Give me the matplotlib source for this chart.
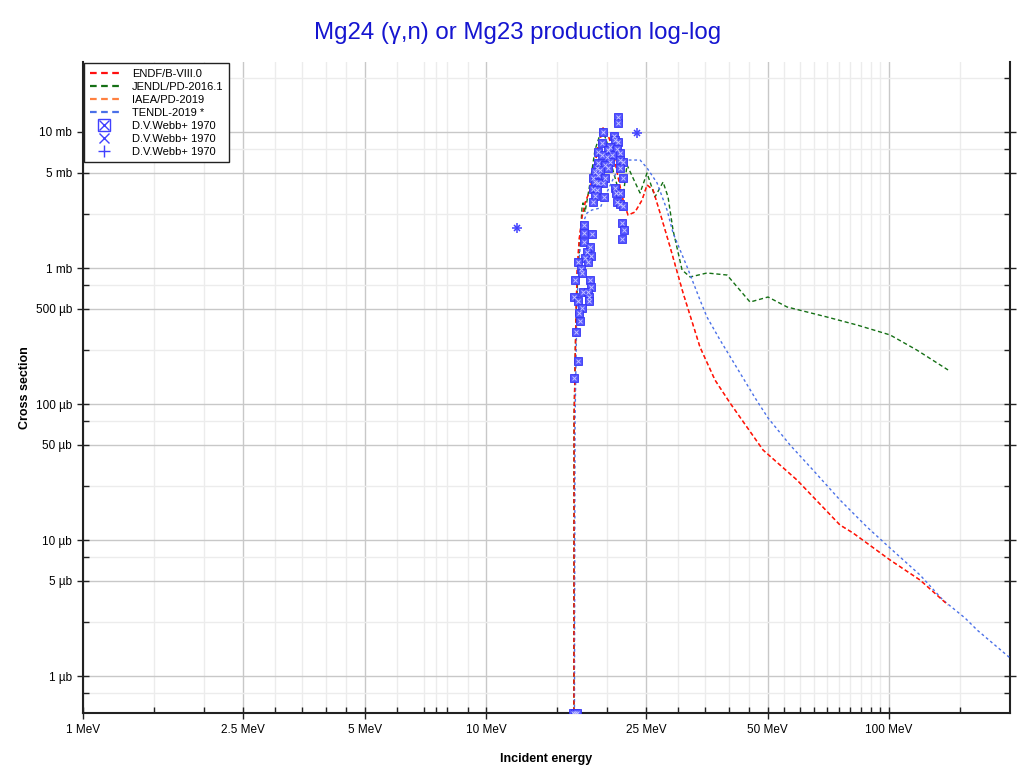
import matplotlib
matplotlib.use("Agg")
import matplotlib.pyplot as plt
from matplotlib.lines import Line2D
from matplotlib.ticker import FixedLocator, FuncFormatter, NullFormatter

plt.rcParams['font.family'] = ['Liberation Sans', 'DejaVu Sans']

# ---- evaluated data (E in MeV, cross section in mb) ----
endf_e = [16.50, 16.54, 16.72, 16.82, 17.02, 17.31, 17.61, 18.12, 18.54, 18.96, 19.52,
          20.08, 20.55, 21.26, 21.88, 22.51, 23.43, 24.39, 25.09, 25.97, 27.03, 28.62,
          30.83, 33.96, 37.00, 40.32, 48.69, 59.12, 75.56, 81.43, 100.6, 119.4, 140.1]
endf_xs = [1e-6, 0.0763, 0.436, 0.919, 1.61, 2.37, 3.01, 3.75, 5.26, 7.76, 10.70,
           9.50, 7.76, 4.67, 3.16, 2.45, 2.58, 3.16, 4.08, 3.75, 2.54, 1.43,
           0.655, 0.262, 0.150, 0.1017, 0.0459, 0.0276, 0.0129, 0.01126, 0.00713, 0.00508, 0.00333]

jendl_e = [16.50, 16.54, 16.72, 16.92, 17.12, 17.31, 17.41, 17.61, 18.12, 18.64, 19.41,
           19.97, 20.55, 21.14, 21.50, 21.88, 22.38, 23.16, 24.11, 25.09, 26.27, 27.50,
           28.29, 29.11, 30.65, 32.09, 35.34, 39.63, 45.20, 50.10, 55.84, 70.19, 83.30,
           100.6, 117.3, 140.1]
jendl_xs = [1e-6, 0.0763, 0.436, 0.967, 1.61, 2.81, 3.01, 2.58, 4.22, 7.38, 10.70,
            8.30, 5.53, 4.08, 3.75, 3.33, 5.72, 4.59, 3.56, 4.99, 3.33, 4.29,
            3.33, 1.90, 0.967, 0.859, 0.919, 0.888, 0.562, 0.612, 0.517, 0.436, 0.381,
            0.322, 0.249, 0.178]

iaea_e = endf_e
iaea_xs = endf_xs

tendl_e = [16.50, 16.63, 16.82, 17.02, 17.31, 17.81, 18.32, 19.19, 20.08, 20.90, 21.50,
           22.51, 24.11, 25.09, 26.57, 28.13, 29.11, 31.54, 33.96, 35.34, 38.07, 42.69,
           46.51, 50.10, 56.80, 64.77, 75.56, 88.19, 100.6, 119.4, 136.1, 154.4, 165.4, 199.6]
tendl_xs = [1e-6, 0.0763, 0.582, 1.15, 2.07, 2.54, 2.67, 2.76, 3.75, 4.83, 5.53,
            6.22, 6.22, 5.44, 4.22, 2.67, 1.81, 1.02, 0.582, 0.436, 0.296, 0.169,
            0.111, 0.0789, 0.0500, 0.0327, 0.0197, 0.01246, 0.00873, 0.00553, 0.00362, 0.00267, 0.00218, 0.00136]

# ---- experimental data: D.V.Webb+ 1970 ----
webb1_e = [21.23, 21.23, 19.49, 20.78, 20.90, 21.30, 19.37, 20.31, 21.11, 19.00,
           20.12, 21.51, 21.51, 20.51, 19.94, 19.37, 21.92, 19.00, 20.31, 19.74,
           18.82, 19.18, 20.12, 21.51, 21.92, 18.64, 19.00, 18.47, 19.74, 19.55,
           18.64, 19.00, 20.90, 18.47, 18.82, 21.02, 18.64, 19.66, 21.51, 21.11,
           18.40, 21.51, 21.84, 21.72, 22.04, 21.76, 17.51, 18.30, 17.46, 17.54,
           18.12, 17.81, 18.25, 17.61, 17.94, 16.95, 17.16, 17.26, 18.12, 16.63,
           18.25, 17.36, 17.91, 16.56, 18.01, 16.95, 18.01, 17.34, 17.03, 17.11,
           16.72, 16.87, 16.56, 16.48, 16.63, 16.80]
webb1_xs = [12.83, 11.71, 10.05, 9.35, 8.73, 8.49, 8.26, 7.80, 7.46, 7.16,
            7.37, 6.97, 6.22, 6.77, 6.58, 6.77, 6.05, 5.89, 6.05, 5.72,
            5.41, 5.26, 5.41, 5.41, 4.57, 5.11, 4.83, 4.57, 4.57, 4.24,
            4.31, 4.20, 3.85, 3.79, 3.75, 3.54, 3.38, 3.31, 3.58, 3.07,
            3.07, 2.96, 2.86, 2.15, 1.90, 1.63, 2.07, 1.78, 1.81, 1.55,
            1.43, 1.32, 1.22, 1.18, 1.11, 1.10, 0.983, 0.914, 0.816, 0.816,
            0.721, 0.669, 0.669, 0.615, 0.615, 0.572, 0.572, 0.505, 0.464, 0.410,
            0.341, 0.208, 0.155, 0.000535, 0.000535, 0.000535]
webb2_e = [11.94, 23.70]
webb2_xs = [1.97, 9.83]
webb3_e = [11.94, 23.70]
webb3_xs = [1.97, 9.83]

# ---- axes ticks ----
x_major = [1, 2.5, 5, 10, 25, 50, 100]
x_major_labels = ['1 MeV', '2.5 MeV', '5 MeV', '10 MeV', '25 MeV', '50 MeV', '100 MeV']
x_minor = [1.5, 2, 3, 3.5, 4, 4.5, 6, 7, 7.5, 8, 9, 15, 20, 30, 35, 40, 45,
           55, 60, 65, 70, 75, 80, 85, 90, 95, 150]
y_major = [1e-3, 5e-3, 1e-2, 5e-2, 0.1, 0.5, 1, 5, 10]
y_major_labels = ['1 µb', '5 µb', '10 µb', '50 µb', '100 µb', '500 µb', '1 mb', '5 mb', '10 mb']
y_minor = [7.5e-4, 2.5e-3, 7.5e-3, 2.5e-2, 7.5e-2, 0.25, 0.75, 2.5, 7.5, 25]

fig = plt.figure(figsize=(10.22, 7.73), dpi=100)
ax = fig.add_axes([83/1022, 1 - 713/773, (1010-83)/1022, (713-62)/773])
ax.set_xscale('log')
ax.set_yscale('log')
ax.set_xlim(1, 199.6)
ax.set_ylim(5.35e-4, 32.7)

ax.xaxis.set_major_locator(FixedLocator(x_major))
ax.xaxis.set_major_formatter(FuncFormatter(lambda v, p: x_major_labels[x_major.index(min(x_major, key=lambda m: abs(m - v)))]))
ax.xaxis.set_minor_locator(FixedLocator(x_minor))
ax.xaxis.set_minor_formatter(NullFormatter())
ax.yaxis.set_major_locator(FixedLocator(y_major))
ax.yaxis.set_major_formatter(FuncFormatter(lambda v, p: y_major_labels[y_major.index(min(y_major, key=lambda m: abs(m - v)))]))
ax.yaxis.set_minor_locator(FixedLocator(y_minor))
ax.yaxis.set_minor_formatter(NullFormatter())

ax.grid(True, which='major', color='#c8c8c8', linewidth=1.0)
ax.grid(True, which='minor', color='#ececec', linewidth=1.0)
ax.set_axisbelow(True)

ax.tick_params(which='major', direction='inout', length=8, width=1, labelsize=8.5, color='#222222', pad=4)
ax.tick_params(which='minor', direction='in', length=4, width=1, color='#222222')
ax.tick_params(axis='y', which='both', right=True)
for s in ['left', 'bottom', 'right']:
    ax.spines[s].set_color('#222222')
    ax.spines[s].set_linewidth(1.5)
ax.spines['top'].set_visible(False)

lw = 1.0
dash = (0, (3, 2))
ax.plot(iaea_e, iaea_xs, color='#ff8040', lw=lw, linestyle=dash, zorder=3)
ax.plot(jendl_e, jendl_xs, color='#157015', lw=lw, linestyle=dash, zorder=3)
ax.plot(tendl_e, tendl_xs, color='#4a70e8', lw=lw, linestyle=(0, (2, 2)), zorder=3)
ax.plot(endf_e, endf_xs, color='#ff1010', lw=lw, linestyle=dash, zorder=4)

mcol = '#4040ff'
ax.plot(webb1_e, webb1_xs, linestyle='none', marker='s', markersize=5.6,
        markerfacecolor='#5555ff', markeredgecolor='#3535f5', markeredgewidth=0.6, zorder=5)
ax.plot(webb1_e, webb1_xs, linestyle='none', marker='x', markersize=3,
        markeredgecolor='#c4c4ff', markeredgewidth=0.7, zorder=6)
ax.plot(webb2_e, webb2_xs, linestyle='none', marker='x', markersize=5,
        markeredgecolor=mcol, markeredgewidth=1.1, zorder=5)
ax.plot(webb3_e, webb3_xs, linestyle='none', marker='+', markersize=6.5,
        markeredgecolor=mcol, markeredgewidth=1.1, zorder=5)

# legend
h_endf = Line2D([], [], color='#ff1010', lw=1.6, linestyle=(0, (3, 2)))
h_jendl = Line2D([], [], color='#157015', lw=1.6, linestyle=(0, (3, 2)))
h_iaea = Line2D([], [], color='#ff8040', lw=1.6, linestyle=(0, (3, 2)))
h_tendl = Line2D([], [], color='#4a70e8', lw=1.6, linestyle=(0, (3, 2)))
h_w1 = (Line2D([], [], linestyle='none', marker='s', markersize=8, markerfacecolor='none',
               markeredgecolor=mcol, markeredgewidth=1.0),
        Line2D([], [], linestyle='none', marker='x', markersize=7, markeredgecolor=mcol, markeredgewidth=1.0))
h_w2 = Line2D([], [], linestyle='none', marker='x', markersize=7, markeredgecolor=mcol, markeredgewidth=1.0)
h_w3 = Line2D([], [], linestyle='none', marker='+', markersize=9, markeredgecolor=mcol, markeredgewidth=1.0)
leg = ax.legend([h_endf, h_jendl, h_iaea, h_tendl, h_w1, h_w2, h_w3],
                ['ENDF/B-VIII.0', 'JENDL/PD-2016.1', 'IAEA/PD-2019', 'TENDL-2019 *',
                 'D.V.Webb+ 1970', 'D.V.Webb+ 1970', 'D.V.Webb+ 1970'],
                loc='upper left', bbox_to_anchor=(0.0, 1.0), fontsize=8, frameon=True,
                fancybox=False, edgecolor='#222222', framealpha=1, handlelength=2.6,
                handletextpad=1.2, labelspacing=0.27, borderpad=0.5, borderaxespad=0.1)
leg.get_frame().set_linewidth(1.0)

fig.text(518/1022, 1 - 33/773, 'Mg24 (γ,n) or Mg23 production log-log', ha='center', va='center',
         fontsize=17.3, color='#1515d0')
ax.set_xlabel('Incident energy', fontsize=9, fontweight='bold', labelpad=12)
ax.set_ylabel('Cross section', fontsize=9, fontweight='bold', labelpad=3)

fig.savefig('out.png', dpi=100)
